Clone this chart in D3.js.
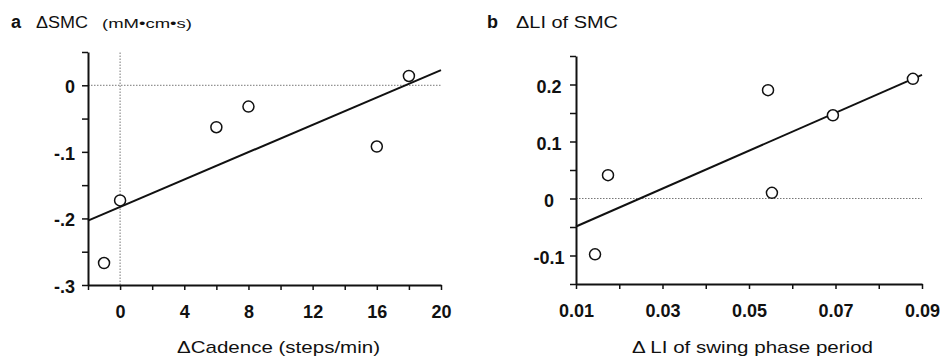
<!DOCTYPE html>
<html>
<head>
<meta charset="utf-8">
<script src="https://cdn.jsdelivr.net/npm/d3@7"></script>
<style>
  body { margin: 0; background: #fff; }
  svg { display: block; font-family: "Liberation Sans", Arial, sans-serif; }
</style>
</head>
<body>
<div id="chart"></div>
<script>
// panel a: change in cadence vs change in SMC
const cadenceDelta = [-1, 0, 6, 8, 16, 18];
const smcDelta = [-0.267, -0.173, -0.063, -0.032, -0.092, 0.014];
const cadenceTicks = [-2, 0, 2, 4, 6, 8, 10, 12, 14, 16, 18, 20];
const cadenceLabels = [0, 4, 8, 12, 16, 20];
const smcTicks = [-0.3, -0.25, -0.2, -0.15, -0.1, -0.05, 0, 0.05];
const smcLabels = [-0.3, -0.2, -0.1, 0];

// panel b: change in LI of swing phase vs change in LI of SMC
const swingLiDelta = [0.0144, 0.0174, 0.0544, 0.0553, 0.0694, 0.0879];
const smcLiDelta = [-0.098, 0.041, 0.19, 0.01, 0.146, 0.21];
const swingTicks = [0.01, 0.02, 0.03, 0.04, 0.05, 0.06, 0.07, 0.08, 0.09];
const swingLabels = [0.01, 0.03, 0.05, 0.07, 0.09];
const liTicks = [-0.15, -0.1, -0.05, 0, 0.05, 0.1, 0.15, 0.2, 0.25];
const liLabels = [-0.1, 0, 0.1, 0.2];

const width = 950;
const height = 362;

const svg = d3.select('#chart')
  .append('svg')
  .attr('width', width)
  .attr('height', height);

function fitLine(xs, ys) {
  const mx = d3.mean(xs);
  const my = d3.mean(ys);
  let sxy = 0, sxx = 0;
  xs.forEach((x, i) => {
    sxy += (x - mx) * (ys[i] - my);
    sxx += (x - mx) * (x - mx);
  });
  const slope = sxy / sxx;
  return { slope, intercept: my - slope * mx };
}

const near = (list, v) => list.some((l) => Math.abs(l - v) < 1e-9);

// plain text helper, stretched a bit to the width of the scanned lettering
function label(g, x, y, str, size, len, opts = {}) {
  const t = g.append('text')
    .attr('x', x)
    .attr('y', y)
    .attr('font-size', size + 'px')
    .attr('font-weight', opts.bold ? 'bold' : 'normal')
    .attr('text-anchor', opts.anchor || 'start')
    .attr('fill', '#111')
    .text(str);
  if (len) t.attr('textLength', len).attr('lengthAdjust', 'spacingAndGlyphs');
  return t;
}

function drawPanel(opt) {
  const x = d3.scaleLinear().domain(opt.xDomain).range(opt.xRange);
  const y = d3.scaleLinear().domain(opt.yDomain).range(opt.yRange);
  const g = svg.append('g');

  // dotted reference lines
  g.append('line')
    .attr('x1', x.range()[0]).attr('x2', x.range()[1])
    .attr('y1', y(0)).attr('y2', y(0))
    .attr('stroke', '#777').attr('stroke-width', 1)
    .attr('stroke-dasharray', '1.5,1.5');
  if (opt.xZeroLine) {
    g.append('line')
      .attr('x1', x(0)).attr('x2', x(0))
      .attr('y1', y.range()[0]).attr('y2', y.range()[1])
      .attr('stroke', '#777').attr('stroke-width', 1)
      .attr('stroke-dasharray', '1.5,1.5');
  }

  const xAxis = g.append('g')
    .attr('transform', `translate(0,${y.range()[0]})`)
    .call(d3.axisBottom(x)
      .tickValues(opt.xTicks)
      .tickSize(5)
      .tickPadding(15)
      .tickSizeOuter(0)
      .tickFormat((d) => (near(opt.xLabels, d) ? opt.xFormat(d) : '')));

  const yAxis = g.append('g')
    .attr('transform', `translate(${x.range()[0]},0)`)
    .call(d3.axisLeft(y)
      .tickValues(opt.yTicks)
      .tickSize(6)
      .tickSizeOuter(0)
      .tickFormat((d) => (near(opt.yLabels, d) ? opt.yFormat(d) : '')));

  [xAxis, yAxis].forEach((ax) => {
    ax.select('.domain').attr('stroke', '#111').attr('stroke-width', 2);
    ax.selectAll('.tick line').attr('stroke', '#111').attr('stroke-width', 1.5);
    ax.selectAll('.tick text')
      .attr('fill', '#111')
      .attr('font-size', '18px')
      .attr('font-weight', 'bold')
      .attr('font-family', '"Liberation Sans", Arial, sans-serif');
  });
  // y tick labels: right aligned in panel a, centred in panel b
  yAxis.selectAll('.tick text')
    .attr('x', opt.yLabelX - x.range()[0])
    .attr('dy', '0.42em')
    .attr('text-anchor', opt.yLabelAnchor);

  // regression line
  const fit = fitLine(opt.xs, opt.ys);
  g.append('line')
    .attr('x1', x(opt.xDomain[0]))
    .attr('y1', y(fit.intercept + fit.slope * opt.xDomain[0]))
    .attr('x2', x(opt.xDomain[1]))
    .attr('y2', y(fit.intercept + fit.slope * opt.xDomain[1]))
    .attr('stroke', '#111')
    .attr('stroke-width', 2);

  g.selectAll('circle')
    .data(opt.xs.map((v, i) => [v, opt.ys[i]]))
    .enter()
    .append('circle')
    .attr('cx', (d) => x(d[0]))
    .attr('cy', (d) => y(d[1]))
    .attr('r', 5.5)
    .attr('fill', '#fff')
    .attr('stroke', '#111')
    .attr('stroke-width', 1.5);

  // x axis title
  label(g, opt.xTitle.x, 353, opt.xTitle.text, 17, opt.xTitle.len);

  // panel heading
  label(g, opt.head.x, 28, opt.head.letter, 18, 0, { bold: true });
  label(g, opt.head.textX, 28, opt.head.text, 16, opt.head.len);
  if (opt.head.unit) {
    label(g, opt.head.unitX, 28, opt.head.unit, 13, opt.head.unitLen);
  }
}

const fmtShort = (d) => (d === 0 ? '0' : d3.format('.1f')(d).replace('0.', '.').replace('−', '-'));
const fmtLong = (d) => (d === 0 ? '0' : d3.format('.1f')(d).replace('−', '-'));

drawPanel({
  xs: cadenceDelta,
  ys: smcDelta,
  xDomain: [-2, 20],
  xRange: [88, 441],
  yDomain: [-0.3, 0.05],
  yRange: [285, 52],
  xTicks: cadenceTicks,
  xLabels: cadenceLabels,
  yTicks: smcTicks,
  yLabels: smcLabels,
  xFormat: (d) => String(d),
  yFormat: fmtShort,
  yLabelX: 75,
  yLabelAnchor: 'end',
  xZeroLine: true,
  xTitle: { text: 'ΔCadence (steps/min)', x: 177, len: 203 },
  head: {
    letter: 'a', x: 11,
    text: 'ΔSMC', textX: 36, len: 52,
    unit: '(mM•cm•s)', unitX: 102, unitLen: 90
  }
});

drawPanel({
  xs: swingLiDelta,
  ys: smcLiDelta,
  xDomain: [0.01, 0.09],
  xRange: [576, 922],
  yDomain: [-0.15, 0.25],
  yRange: [284, 56],
  xTicks: swingTicks,
  xLabels: swingLabels,
  yTicks: liTicks,
  yLabels: liLabels,
  xFormat: (d) => d3.format('.2f')(d),
  yFormat: fmtLong,
  yLabelX: 549,
  yLabelAnchor: 'middle',
  xZeroLine: false,
  xTitle: { text: 'Δ LI of swing phase period', x: 632, len: 241 },
  head: {
    letter: 'b', x: 487,
    text: 'ΔLI of SMC', textX: 516, len: 102,
    unit: null
  }
});
</script>
</body>
</html>
